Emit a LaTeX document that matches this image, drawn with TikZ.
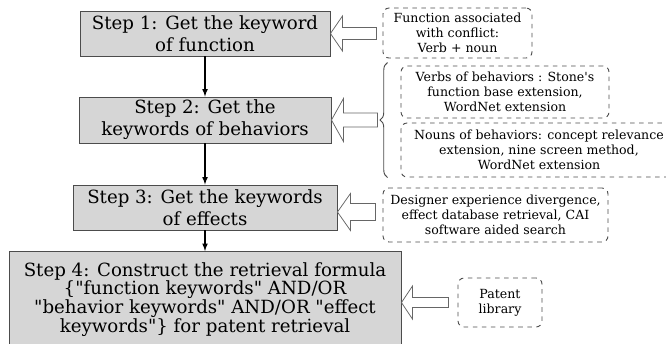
\documentclass[tikz,border=0pt]{standalone}
\usepackage{fontspec}
\newfontfamily\serif{DejaVu Serif}
\usetikzlibrary{decorations.pathreplacing}
\usetikzlibrary{calc}

\newcommand{\stepfont}{\serif\fontsize{12}{14.5}\selectfont}
\newcommand{\notefont}{\serif\fontsize{8.3}{10}\selectfont}
\newcommand{\blockarrow}[5]{%
    \draw[hollow] (#1) -- ++(#2,-#3) -- ++(0,#3-#4) -- ++(#5,0) --
          ++(0,2*#4) -- ++(-#5,0) -- ++(0,#3-#4) -- cycle;}

\tikzset{
    stepbox/.style={draw=black!70, fill=black!16, line width=0.6pt,
        align=center, font=\stepfont, inner sep=0pt},
    notebox/.style={draw=black!70, dashed, line width=0.6pt,
        rounded corners=4pt, align=center, font=\notefont, inner sep=0pt},
    hollow/.style={draw=black!60, fill=white, line width=0.5pt},
}

\begin{document}
\begin{tikzpicture}[
        x=0.66pt, y=-0.66pt, >=latex,
    ]

    \useasboundingbox (0,0) rectangle (666,343);
    \clip (0,0) rectangle (666,343);

    \node[stepbox, minimum width=250*0.66pt, minimum height=45*0.66pt] (step1) at (205,33.5)
        {Step 1: Get the keyword\\of function};
    \node[stepbox, minimum width=252*0.66pt, minimum height=46*0.66pt] (step2) at (205,120)
        {Step 2: Get the\\keywords of behaviors};
    \node[stepbox, minimum width=264*0.66pt, minimum height=45*0.66pt] (step3) at (205,207.5)
        {Step 3: Get the keywords\\of effects};
    \node[stepbox, minimum width=392*0.66pt, minimum height=96*0.66pt, anchor=north,
          font=\serif\fontsize{12}{12.4}\selectfont] (step4) at (205,251)
        {Step 4: Construct the retrieval formula\\
         \{"function keywords" AND/OR\\
         "behavior keywords" AND/OR "effect\\
         keywords"\} for patent retrieval};

    \draw[->, line width=0.7pt] (step1) -- (step2);
    \draw[->, line width=0.7pt] (step2) -- (step3);
    \draw[->, line width=0.7pt] (step3) -- (step4);

    \node[notebox, minimum width=149*0.66pt, minimum height=50*0.66pt] (conflict) at (457.5,33)
        {Function associated\\with conflict:\\Verb + noun};
    \node[notebox, minimum width=208*0.66pt, minimum height=52*0.66pt] (verbs) at (505,92)
        {Verbs of behaviors : Stone's\\function base extension,\\WordNet extension};
    \node[notebox, minimum width=276*0.66pt, minimum height=54*0.66pt] (nouns) at (539,150)
        {Nouns of behaviors: concept relevance\\extension, nine screen method,\\WordNet extension};
    \node[notebox, minimum width=225*0.66pt, minimum height=54*0.66pt] (effects) at (495.5,215)
        {Designer experience divergence,\\effect database retrieval, CAI\\software aided search};
    \node[notebox, minimum width=84*0.66pt, minimum height=49*0.66pt] (library) at (500,302.5)
        {Patent\\library};

    \draw[draw=black!70, line width=0.6pt,
          decorate, decoration={brace, amplitude=5pt}]
        ($(nouns.south west)+(-13,0)$) -- ($(verbs.north west)+(-13,-3)$)
        coordinate[midway, xshift=-5pt] (bracetip);

    \blockarrow{step1.east}{12}{17.5}{6}{34}
    \blockarrow{step2.east |- bracetip}{12}{21.5}{7}{34}
    \blockarrow{$(step3.east)+(0,4.5)$}{13}{18.5}{8.5}{25}
    \blockarrow{step4.east |- library.west}{11}{16.5}{5}{36}

    \end{tikzpicture}
\end{document}
